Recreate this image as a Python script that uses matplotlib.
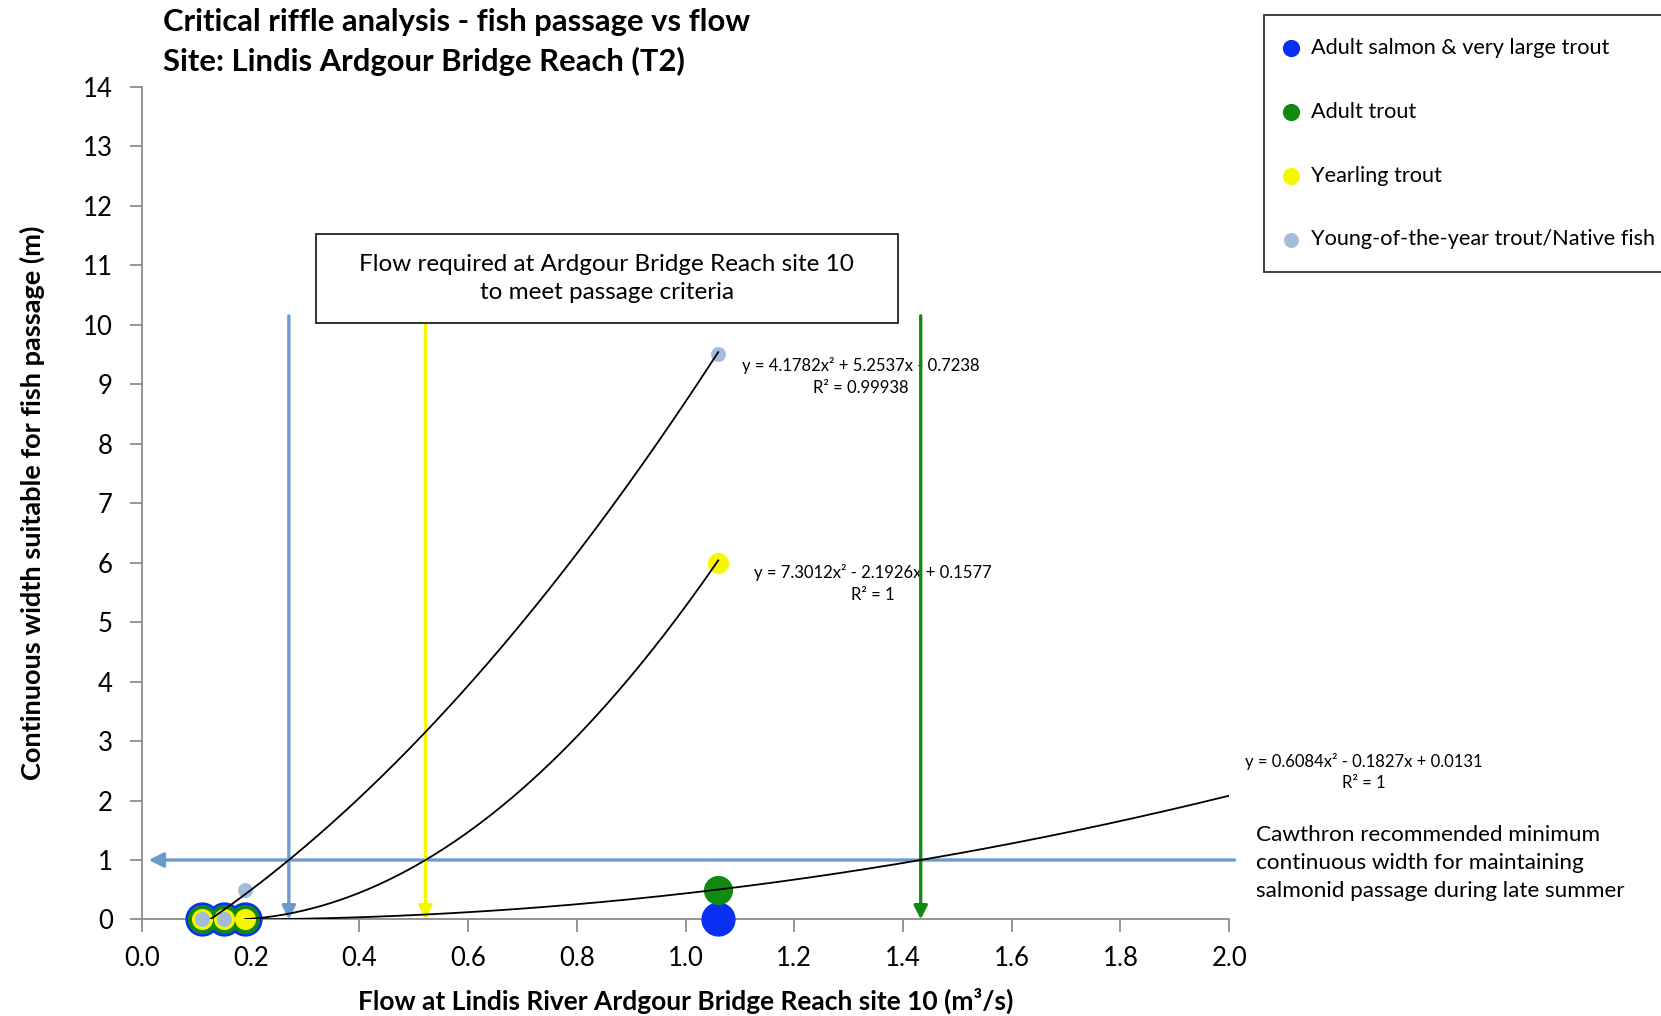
import numpy as np
import matplotlib.pyplot as plt
from matplotlib.patches import Rectangle

plt.rcParams['font.family'] = ['Lato', 'DejaVu Sans']

# measured points at the critical riffle (flow m3/s, continuous width m)
flow = [0.11, 0.15, 0.19, 1.06]
salmon_width = [0, 0, 0, 0]
adult_width = [0, 0, 0, 0.5]
yearling_width = [0, 0, 0, 6.0]
yoy_width = [0, 0, 0.5, 9.5]

# quadratic trendlines (a, b, c) and their R^2
yoy_fit = [4.1782, 5.2537, -0.7238]
yearling_fit = [7.3012, -2.1926, 0.1577]
adult_fit = [0.6084, -0.1827, 0.0131]
yoy_r2 = '0.99938'
yearling_r2 = '1'
adult_r2 = '1'

min_width = 1.0  # Cawthron minimum continuous width

c_blue = '#0b2ff2'
c_green = '#128a12'
c_yellow = '#f7f700'
c_lblue = '#a4bcdc'
c_arrow = '#6c9bd0'


def required_flow(fit, width):
    r = np.roots([fit[0], fit[1], fit[2] - width])
    r = r[np.isreal(r)].real
    return r[r > 0].min()


def eq_text(fit, r2):
    s1 = '-' if fit[1] < 0 else '+'
    s2 = '-' if fit[2] < 0 else '+'
    return 'y = %.4fx² %s %.4fx %s %.4f\nR² = %s' % (fit[0], s1, abs(fit[1]), s2, abs(fit[2]), r2)


fig = plt.figure(figsize=(16.61, 10.16), dpi=100)
ax = fig.add_axes([0.0855, 0.095, 0.6545, 0.8195])

ax.scatter(flow, salmon_width, s=560, color=c_blue, clip_on=False, zorder=3,
           label='Adult salmon & very large trout')
ax.scatter(flow, adult_width, s=400, color=c_green, clip_on=False, zorder=4,
           label='Adult trout')
ax.scatter(flow, yearling_width, s=200, color=c_yellow, clip_on=False, zorder=5,
           label='Yearling trout')
ax.scatter(flow, yoy_width, s=95, color=c_lblue, clip_on=False, zorder=6,
           label='Young-of-the-year trout/Native fish')

# trendlines
for fit, x0, x1 in [(yoy_fit, 0.11, 1.06), (yearling_fit, 0.19, 1.06), (adult_fit, 0.19, 2.0)]:
    xx = np.linspace(x0, x1, 200)
    ax.plot(xx, np.polyval(fit, xx), color='black', lw=1.3, zorder=7)

ax.text(1.322, 9.13, eq_text(yoy_fit, yoy_r2),
        ha='center', va='center', fontsize=12, linespacing=1.45, zorder=2)
ax.text(1.345, 5.65, eq_text(yearling_fit, yearling_r2),
        ha='center', va='center', fontsize=12, linespacing=1.45, zorder=2)
ax.text(2.248, 2.48, eq_text(adult_fit, adult_r2),
        ha='center', va='center', fontsize=12, linespacing=1.45, clip_on=False)

# minimum width line
ax.annotate('', xy=(0.012, min_width), xytext=(2.01, min_width),
            arrowprops=dict(arrowstyle='-|>', color=c_arrow, lw=2.4, mutation_scale=22,
                            shrinkA=0, shrinkB=0),
            annotation_clip=False, zorder=1)

# flows needed to reach the minimum width
for fit, col, top in [(yoy_fit, c_arrow, 10.15), (yearling_fit, c_yellow, 10.03),
                      (adult_fit, c_green, 10.15)]:
    q = required_flow(fit, min_width)
    ax.annotate('', xy=(q, 0.0), xytext=(q, top),
                arrowprops=dict(arrowstyle='-|>', color=col, lw=2.4, mutation_scale=20,
                                shrinkA=0, shrinkB=0),
                zorder=2)

ax.add_patch(Rectangle((0.32, 10.03), 1.07, 1.5, fc='white', ec='#222222', lw=1.3, zorder=8))
ax.text(0.855, 10.78, 'Flow required at Ardgour Bridge Reach site 10\nto meet passage criteria',
        ha='center', va='center', fontsize=17.5, linespacing=1.4, zorder=9)

ax.text(2.05, 0.95, 'Cawthron recommended minimum\ncontinuous width for maintaining\n'
        'salmonid passage during late summer',
        ha='left', va='center', fontsize=16.2, linespacing=1.52, clip_on=False)

ax.set_xlim(0, 2.0)
ax.set_ylim(0, 14)
ax.set_xticks(np.arange(0, 2.01, 0.2))
ax.set_xticklabels(['%.1f' % v for v in np.arange(0, 2.01, 0.2)])
ax.set_yticks(range(0, 15))
for s in ['top', 'right']:
    ax.spines[s].set_visible(False)
for s in ['left', 'bottom']:
    ax.spines[s].set_color('#8c8c8c')
    ax.spines[s].set_linewidth(1.3)
ax.tick_params(axis='both', colors='#8c8c8c', labelcolor='black', labelsize=18.5,
               length=9, width=1.3)
ax.tick_params(axis='y', pad=12)
ax.tick_params(axis='x', pad=10)

ax.set_xlabel('Flow at Lindis River Ardgour Bridge Reach site 10 (m³/s)',
              fontsize=19, fontweight='bold', labelpad=12)
ax.set_ylabel('Continuous width suitable for fish passage (m)',
              fontsize=19.5, fontweight='bold', labelpad=27)

fig.text(0.098, 0.992, 'Critical riffle analysis - fish passage vs flow\n'
         'Site: Lindis Ardgour Bridge Reach (T2)',
         ha='left', va='top', fontsize=22.3, fontweight='bold', linespacing=1.46)

leg = fig.legend(loc='upper left', bbox_to_anchor=(0.761, 0.985), fontsize=15.6,
                 frameon=True, fancybox=False, edgecolor='black', labelspacing=2.02,
                 handletextpad=0.72, borderpad=1.05, markerscale=1.0, handlelength=0.4,
                 borderaxespad=0)
leg.get_frame().set_linewidth(1.3)
for h, sz in zip(leg.legend_handles, [130, 130, 130, 95]):
    h.set_sizes([sz])

fig.savefig('out.png', dpi=100)
